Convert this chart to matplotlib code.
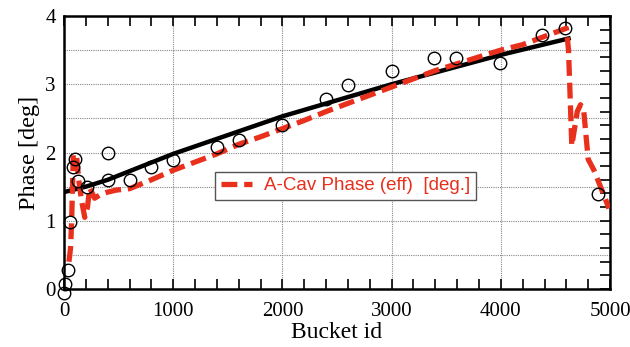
import numpy as np
import matplotlib
matplotlib.use("Agg")
import matplotlib.pyplot as plt
from matplotlib.ticker import MultipleLocator

# measured phase (open circles)
meas_x = [0, 10, 35, 55, 85, 100, 130, 210, 400, 400, 600, 800, 1000, 1400, 1600, 2000,
          2400, 2600, 3000, 3390, 3590, 3990, 4380, 4590, 4890]
meas_y = [-0.06, 0.08, 0.28, 0.98, 1.79, 1.9, 1.58, 1.49, 2.0, 1.6, 1.59, 1.79, 1.89, 2.08, 2.19, 2.4,
          2.78, 2.99, 3.19, 3.38, 3.38, 3.31, 3.72, 3.82, 1.39]

# fit (black line)
fit_x = [0, 200, 400, 1000, 2000, 3000, 4000, 4620]
fit_y = [1.42, 1.5, 1.6, 1.98, 2.53, 3.0, 3.43, 3.67]

# A-Cav effective phase (red dashed)
cav_x = [45, 60, 70, 85, 100, 115, 135, 160, 190, 215, 235, 260, 280, 330, 400, 480, 600, 800,
         1000, 1200, 1400, 1600, 1800, 2000, 2200, 2400, 2600, 2800, 3000, 3200, 3400, 3600,
         3800, 4000, 4200, 4400, 4500, 4600, 4620, 4650, 4670, 4700, 4730, 4760, 4800, 4850,
         4900, 4950, 4990]
cav_y = [0.4, 0.6, 1.0, 1.96, 1.98, 1.95, 1.6, 1.3, 1.05, 1.2, 1.48, 1.4, 1.33, 1.38, 1.42, 1.45,
         1.47, 1.6, 1.74, 1.86, 1.98, 2.12, 2.23, 2.35, 2.47, 2.6, 2.72, 2.84, 2.96, 3.08, 3.2,
         3.3, 3.4, 3.5, 3.58, 3.7, 3.76, 3.82, 3.5, 2.1, 2.3, 2.6, 2.7, 2.6, 1.9, 1.75, 1.55,
         1.35, 1.18]

fig = plt.figure(figsize=(6.3, 3.47), dpi=100)
ax = fig.add_axes([0.1016, 0.167, 0.8667, 0.787])

# grid: vertical at 1000s, horizontal every 0.5
for gx in range(1000, 5000, 1000):
    ax.axvline(gx, color="#888888", lw=0.8, ls=(0, (1, 1)), zorder=0)
for gy in np.arange(0.5, 4.0, 0.5):
    ax.axhline(gy, color="#888888", lw=0.8, ls=(0, (1, 1)), zorder=0)

ax.plot(fit_x, fit_y, color="black", lw=3.2, zorder=2)
ax.plot(cav_x, cav_y, color="#e8301c", lw=3.8, dashes=(3, 1.3),
        label="A-Cav Phase (eff)  [deg.]", zorder=3)
ax.plot(meas_x, meas_y, "o", mfc="none", mec="black", mew=1.0, ms=9, zorder=4,
        clip_on=False)

ax.set_xlim(0, 5000)
ax.set_ylim(0, 4)
ax.xaxis.set_major_locator(MultipleLocator(1000))
ax.xaxis.set_minor_locator(MultipleLocator(200))
ax.yaxis.set_major_locator(MultipleLocator(1))
ax.yaxis.set_minor_locator(MultipleLocator(0.2))
ax.tick_params(which="both", direction="in", length=7, width=1.2,
               top=True, right=True, left=False, bottom=True)
ax.tick_params(which="major", labelsize=15)
ax.tick_params(axis="x", which="major", pad=9)
ax.tick_params(axis="y", which="major", pad=6)
for lab in ax.get_xticklabels() + ax.get_yticklabels():
    lab.set_family("Liberation Serif")
for sp in ax.spines.values():
    sp.set_linewidth(1.8)

ax.set_xlabel("Bucket id", family="Liberation Serif", fontsize=17, labelpad=1)
ax.set_ylabel("Phase [deg]", family="Liberation Serif", fontsize=17.5, labelpad=4)

leg = ax.legend(loc="center", bbox_to_anchor=(0.515, 0.378), fancybox=False,
                framealpha=1, edgecolor="#555555", handlelength=1.7,
                prop={"family": "Liberation Sans", "size": 13.5},
                borderpad=0.3, handletextpad=0.6)
leg.get_frame().set_linewidth(1.0)
for t in leg.get_texts():
    t.set_color("#e8301c")

fig.savefig("out.png", dpi=100)
